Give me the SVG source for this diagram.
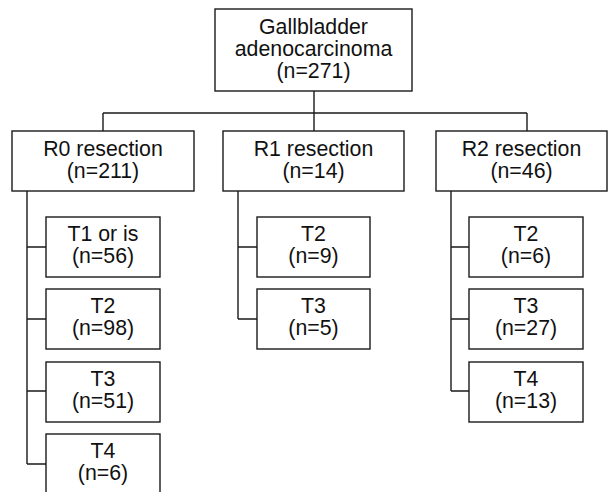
<svg xmlns="http://www.w3.org/2000/svg" width="608" height="492" viewBox="0 0 608 492">
<style>
.box{fill:#fff;stroke:#1a1a1a;stroke-width:1.4}
.ln{fill:none;stroke:#1a1a1a;stroke-width:1.4}
text{font-family:"Liberation Sans",Arial,sans-serif;font-size:21.3px;fill:#111;text-anchor:middle}
</style>
<rect width="608" height="492" fill="#fff"/>
<g id="connectors">
<path class="ln" d="M314 91V113M103 113H527M103 113V131M314 113V131M527 113V131"/>
<path class="ln" d="M27 191V464M27 247H46M27 319H46M27 391H46M27 464H46"/>
<path class="ln" d="M238 191V319M238 247H257M238 319H257"/>
<path class="ln" d="M451 191V391M451 247H469M451 319H469M451 391H469"/>
</g>
<g id="root"><rect class="box" x="215" y="9" width="197" height="82"/><text x="313.5" y="33.5">Gallbladder</text><text x="313.5" y="56">adenocarcinoma</text><text x="313.5" y="78">(n=271)</text></g>
<g id="r0"><rect class="box" x="12" y="131" width="182" height="60"/><text x="103" y="155.5">R0 resection</text><text x="103" y="177.5">(n=211)</text></g>
<g id="r1"><rect class="box" x="223" y="131" width="181" height="60"/><text x="313.5" y="155.5">R1 resection</text><text x="313.5" y="177.5">(n=14)</text></g>
<g id="r2"><rect class="box" x="436" y="131" width="171" height="60"/><text x="521.5" y="155.5">R2 resection</text><text x="521.5" y="177.5">(n=46)</text></g>
<g id="r0t1"><rect class="box" x="46" y="217" width="114" height="60"/><text x="103" y="240.5">T1 or is</text><text x="103" y="262.5">(n=56)</text></g>
<g id="r0t2"><rect class="box" x="46" y="289" width="114" height="60"/><text x="103" y="312.5">T2</text><text x="103" y="334.5">(n=98)</text></g>
<g id="r0t3"><rect class="box" x="46" y="362" width="114" height="60"/><text x="103" y="385.5">T3</text><text x="103" y="407.5">(n=51)</text></g>
<g id="r0t4"><rect class="box" x="46" y="434" width="114" height="62"/><text x="103" y="457.5">T4</text><text x="103" y="479.5">(n=6)</text></g>
<g id="r1t2"><rect class="box" x="257" y="217" width="113" height="60"/><text x="313.5" y="240.5">T2</text><text x="313.5" y="262.5">(n=9)</text></g>
<g id="r1t3"><rect class="box" x="257" y="289" width="113" height="60"/><text x="313.5" y="312.5">T3</text><text x="313.5" y="334.5">(n=5)</text></g>
<g id="r2t2"><rect class="box" x="469" y="217" width="114" height="60"/><text x="526" y="240.5">T2</text><text x="526" y="262.5">(n=6)</text></g>
<g id="r2t3"><rect class="box" x="469" y="289" width="114" height="60"/><text x="526" y="312.5">T3</text><text x="526" y="334.5">(n=27)</text></g>
<g id="r2t4"><rect class="box" x="469" y="362" width="114" height="60"/><text x="526" y="385.5">T4</text><text x="526" y="407.5">(n=13)</text></g>
</svg>
